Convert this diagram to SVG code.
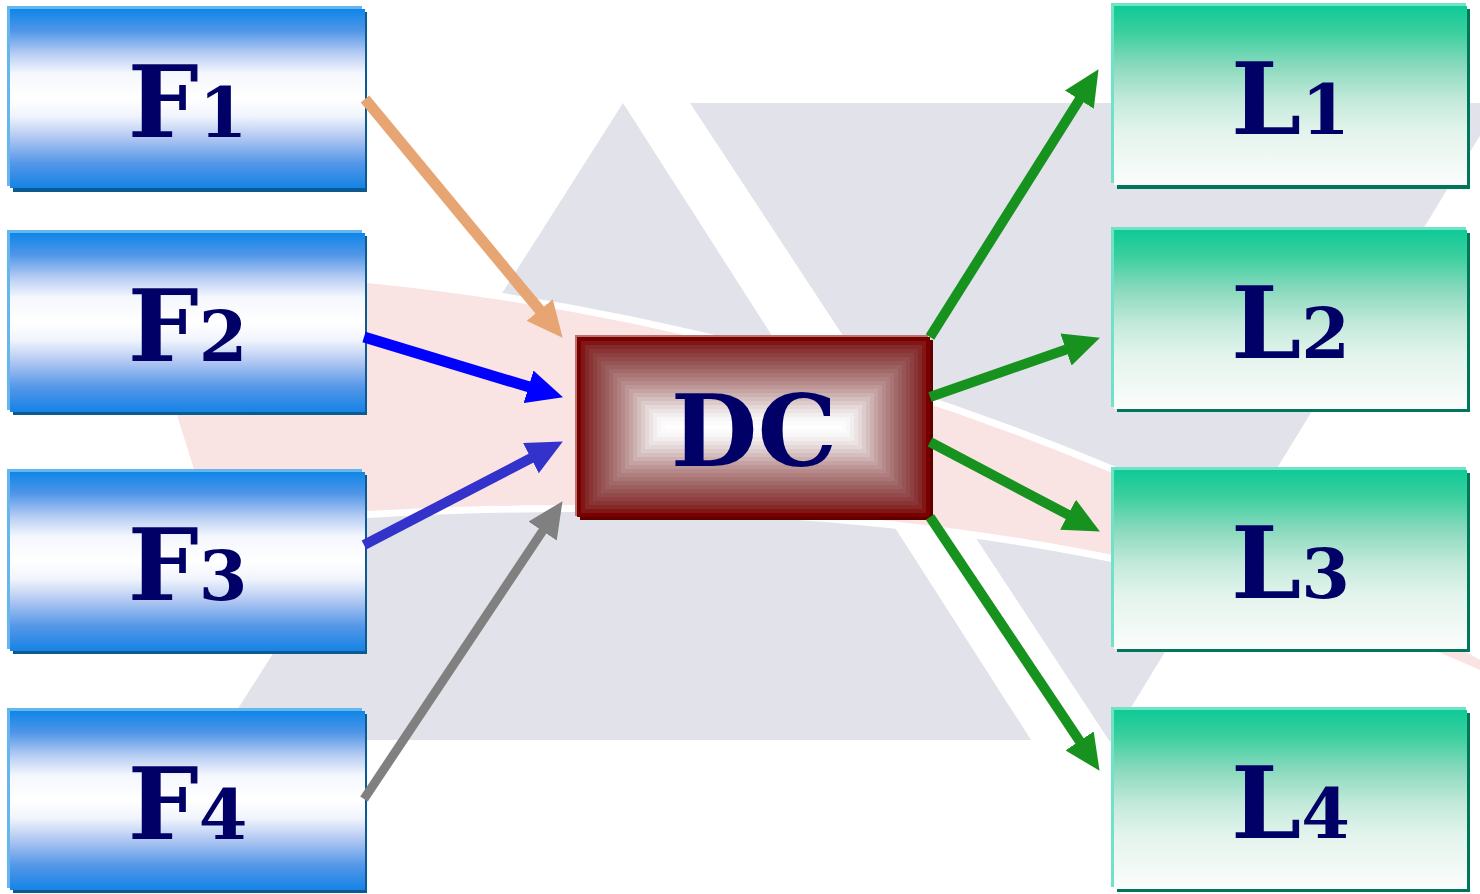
<svg xmlns="http://www.w3.org/2000/svg" width="1480" height="894" viewBox="0 0 1480 894">
  <defs>
    <style>
      .lbl { font-family: "DejaVu Serif", "Liberation Serif", serif; font-weight: bold; fill: #000066; text-anchor: middle; font-size: 100px; }
      .sub { font-size: 70px; }
      .fHi { fill: #66b6ee; }
      .fSh { fill: #0b5a92; }
      .fMain { fill: url(#fGrad); }
      .lHi { fill: #72e2c6; }
      .lSh { fill: #00775a; }
      .lMain { fill: url(#lGrad); }
      .conn { fill: none; stroke-linecap: butt; }
    </style>
    <linearGradient id="fGrad" x1="0" y1="0" x2="0" y2="1">
      <stop offset="0" stop-color="#0f86e8"/>
      <stop offset="0.12" stop-color="#4f95e8"/>
      <stop offset="0.25" stop-color="#b7cdf3"/>
      <stop offset="0.36" stop-color="#f4f7fd"/>
      <stop offset="0.5" stop-color="#ffffff"/>
      <stop offset="0.6" stop-color="#f0f4fc"/>
      <stop offset="0.72" stop-color="#b0c7f2"/>
      <stop offset="0.86" stop-color="#5597e8"/>
      <stop offset="1" stop-color="#1583e5"/>
    </linearGradient>
    <linearGradient id="lGrad" x1="0" y1="0" x2="0" y2="1">
      <stop offset="0" stop-color="#0ecb96"/>
      <stop offset="0.15" stop-color="#3ccf9f"/>
      <stop offset="0.34" stop-color="#8cdabe"/>
      <stop offset="0.52" stop-color="#c2e9d9"/>
      <stop offset="0.7" stop-color="#e3f4ec"/>
      <stop offset="1" stop-color="#fbfdfc"/>
    </linearGradient>
    <marker id="hOrange" viewBox="0 0 36 34" markerWidth="36" markerHeight="34" refX="1" refY="17" orient="auto" markerUnits="userSpaceOnUse"><path d="M0,0 L36,17 L0,34 Z" fill="#e6a572"/></marker>
    <marker id="hBlue" viewBox="0 0 36 34" markerWidth="36" markerHeight="34" refX="1" refY="17" orient="auto" markerUnits="userSpaceOnUse"><path d="M0,0 L36,17 L0,34 Z" fill="#0000ff"/></marker>
    <marker id="hIndigo" viewBox="0 0 36 34" markerWidth="36" markerHeight="34" refX="1" refY="17" orient="auto" markerUnits="userSpaceOnUse"><path d="M0,0 L36,17 L0,34 Z" fill="#3333cc"/></marker>
    <marker id="hGray" viewBox="0 0 36 34" markerWidth="36" markerHeight="34" refX="1" refY="17" orient="auto" markerUnits="userSpaceOnUse"><path d="M0,0 L36,17 L0,34 Z" fill="#808080"/></marker>
    <marker id="hGreen" viewBox="0 0 36 34" markerWidth="36" markerHeight="34" refX="1" refY="17" orient="auto" markerUnits="userSpaceOnUse"><path d="M0,0 L36,17 L0,34 Z" fill="#18921e"/></marker>
  </defs>

  <rect width="1480" height="894" fill="#ffffff"/>

  <!-- faint emblem behind the flow: two grey triangles and a pink swoosh -->
  <g id="backdrop">
    <polygon points="623,103 218,740 1031,740" fill="#e2e3ea"/>
    <polygon points="690,103 1500,103 1110,742" fill="#e2e3ea"/>
    <path d="M367,283 Q948.6,341 1480,660 L1492,666 L1480,670 C1100,500 650,495 367,511 L205,505 L160,360 Q230,292 367,283 Z"
          fill="#fae3e3" stroke="#ffffff" stroke-width="14" stroke-linejoin="round" paint-order="stroke"/>
  </g>

  <!-- supplier boxes -->
  <g id="F1">
    <rect class="fHi" x="7" y="6" width="355" height="180"/>
    <rect class="fSh" x="13" y="12" width="354" height="180"/>
    <rect class="fMain" x="10" y="9" width="355" height="179"/>
    <text class="lbl" x="187.5" y="137">F<tspan class="sub">1</tspan></text>
  </g>
  <g id="F2">
    <rect class="fHi" x="7" y="230" width="355" height="180"/>
    <rect class="fSh" x="13" y="236" width="354" height="179"/>
    <rect class="fMain" x="10" y="233" width="355" height="179"/>
    <text class="lbl" x="187.5" y="361">F<tspan class="sub">2</tspan></text>
  </g>
  <g id="F3">
    <rect class="fHi" x="7" y="469" width="355" height="180"/>
    <rect class="fSh" x="13" y="475" width="354" height="179"/>
    <rect class="fMain" x="10" y="472" width="355" height="179"/>
    <text class="lbl" x="187.5" y="600">F<tspan class="sub">3</tspan></text>
  </g>
  <g id="F4">
    <rect class="fHi" x="7" y="708" width="355" height="180"/>
    <rect class="fSh" x="13" y="714" width="354" height="179"/>
    <rect class="fMain" x="10" y="711" width="355" height="179"/>
    <text class="lbl" x="187.5" y="839">F<tspan class="sub">4</tspan></text>
  </g>

  <!-- distribution centre: stepped rectangular shading from maroon rim to white core -->
  <g id="DC">
    <rect x="575" y="335" width="353" height="181" fill="#b87272"/>
    <rect x="580" y="340" width="353" height="180" fill="#5c0000"/>
    <rect x="577" y="337" width="353" height="180" fill="#7a0000"/>
    <rect x="581" y="341" width="345" height="172" fill="#811616"/>
    <rect x="585" y="345" width="337" height="164" fill="#862828"/>
    <rect x="589" y="349" width="329" height="156" fill="#8a3535"/>
    <rect x="593" y="353" width="321" height="148" fill="#8e4040"/>
    <rect x="597" y="357" width="313" height="140" fill="#924a4a"/>
    <rect x="601" y="361" width="305" height="132" fill="#975454"/>
    <rect x="605" y="365" width="297" height="124" fill="#9c5e5e"/>
    <rect x="609" y="369" width="289" height="116" fill="#a26969"/>
    <rect x="613" y="373" width="281" height="108" fill="#a87474"/>
    <rect x="617" y="377" width="273" height="100" fill="#af7f7f"/>
    <rect x="621" y="381" width="265" height="92" fill="#b68a8a"/>
    <rect x="625" y="385" width="257" height="84" fill="#bd9696"/>
    <rect x="629" y="389" width="249" height="76" fill="#c5a3a3"/>
    <rect x="633" y="393" width="241" height="68" fill="#cdb0b0"/>
    <rect x="637" y="397" width="233" height="60" fill="#d5bebe"/>
    <rect x="641" y="401" width="225" height="52" fill="#ddcbcb"/>
    <rect x="645" y="405" width="217" height="44" fill="#e5d8d8"/>
    <rect x="649" y="409" width="209" height="36" fill="#ece4e4"/>
    <rect x="653" y="413" width="201" height="28" fill="#f3eeee"/>
    <rect x="657" y="417" width="193" height="20" fill="#f8f6f6"/>
    <rect x="661" y="421" width="185" height="12" fill="#fcfbfb"/>
    <rect x="665" y="425" width="177" height="4" fill="#ffffff"/>
    <text class="lbl" x="754" y="466">DC</text>
  </g>

  <!-- customer boxes -->
  <g id="L1">
    <rect class="lHi" x="1111" y="3" width="355" height="180"/>
    <rect class="lSh" x="1117" y="9" width="353" height="180"/>
    <rect class="lMain" x="1114" y="6" width="353" height="179"/>
    <text class="lbl" x="1290.5" y="134">L<tspan class="sub">1</tspan></text>
  </g>
  <g id="L2">
    <rect class="lHi" x="1111" y="227" width="355" height="180"/>
    <rect class="lSh" x="1117" y="233" width="353" height="179"/>
    <rect class="lMain" x="1114" y="230" width="353" height="179"/>
    <text class="lbl" x="1290.5" y="358">L<tspan class="sub">2</tspan></text>
  </g>
  <g id="L3">
    <rect class="lHi" x="1111" y="467" width="355" height="180"/>
    <rect class="lSh" x="1117" y="473" width="353" height="179"/>
    <rect class="lMain" x="1114" y="470" width="353" height="179"/>
    <text class="lbl" x="1290.5" y="598">L<tspan class="sub">3</tspan></text>
  </g>
  <g id="L4">
    <rect class="lHi" x="1111" y="707" width="355" height="180"/>
    <rect class="lSh" x="1117" y="713" width="353" height="179"/>
    <rect class="lMain" x="1114" y="710" width="353" height="179"/>
    <text class="lbl" x="1290.5" y="838">L<tspan class="sub">4</tspan></text>
  </g>

  <!-- flows into and out of DC -->
  <g id="connectors">
    <line class="conn" x1="365" y1="99" x2="540.3" y2="310.8" stroke="#e6a572" stroke-width="11" marker-end="url(#hOrange)"/>
    <line class="conn" x1="364" y1="337" x2="529.5" y2="387.1" stroke="#0000ff" stroke-width="11" marker-end="url(#hBlue)"/>
    <line class="conn" x1="364" y1="545" x2="531.8" y2="457.7" stroke="#3333cc" stroke-width="10" marker-end="url(#hIndigo)"/>
    <line class="conn" x1="364" y1="799" x2="543.1" y2="530.3" stroke="#808080" stroke-width="9" marker-end="url(#hGray)"/>
    <line class="conn" x1="930" y1="337" x2="1079.9" y2="98.8" stroke="#18921e" stroke-width="10" marker-end="url(#hGreen)"/>
    <line class="conn" x1="930" y1="397" x2="1066.9" y2="349.2" stroke="#18921e" stroke-width="10" marker-end="url(#hGreen)"/>
    <line class="conn" x1="930" y1="442" x2="1068.9" y2="515.2" stroke="#18921e" stroke-width="10" marker-end="url(#hGreen)"/>
    <line class="conn" x1="930" y1="517" x2="1080.1" y2="741.7" stroke="#18921e" stroke-width="10" marker-end="url(#hGreen)"/>
  </g>
</svg>
